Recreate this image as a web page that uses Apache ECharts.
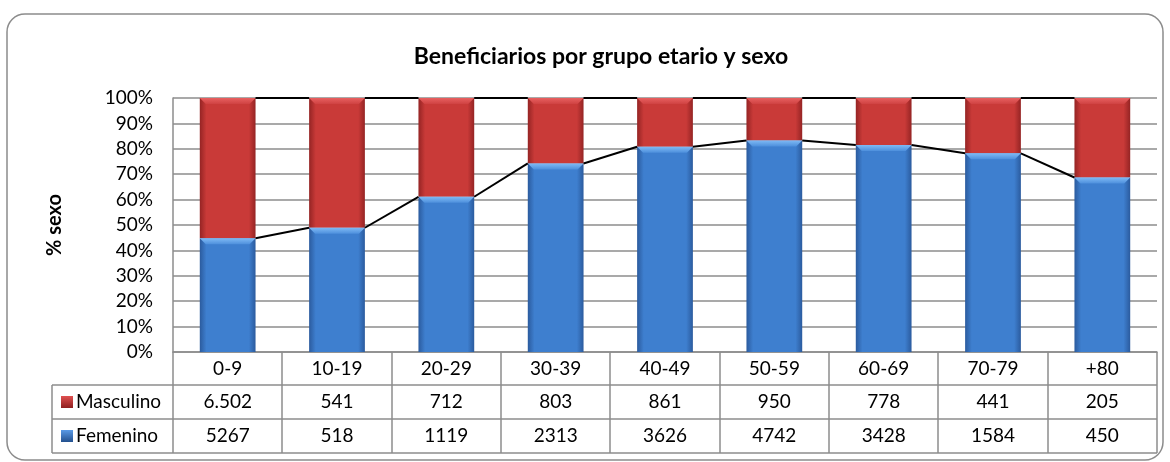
<!DOCTYPE html>
<html>
<head>
	<meta charset="utf-8">
	<title>Beneficiarios por grupo etario y sexo</title>
	<script src="https://cdn.jsdelivr.net/npm/echarts@6/dist/echarts.min.js"></script>
	<style>
		body { margin: 0; background: #fff; }
	</style>
</head>
<body>
	<div id="main" style="width: 1170px;height: 462px;"></div>
	<script>
		// datos
		var grupos = ['0-9', '10-19', '20-29', '30-39', '40-49', '50-59', '60-69', '70-79', '+80'];
		var masculino = [6502, 541, 712, 803, 861, 950, 778, 441, 205];
		var femenino = [5267, 518, 1119, 2313, 3626, 4742, 3428, 1584, 450];
		var masculinoTxt = ['6.502', '541', '712', '803', '861', '950', '778', '441', '205'];
		var femeninoTxt = ['5267', '518', '1119', '2313', '3626', '4742', '3428', '1584', '450'];
		var yTicks = [0, 10, 20, 30, 40, 50, 60, 70, 80, 90, 100];

		var FONT = 'Lato';
		var FS = 19;
		// área del gráfico
		var L = 173, R = 1157, T = 98, B = 352;
		var cellW = (R - L) / grupos.length;
		var rowY = [352, 385, 419, 453];
		var barRatio = 0.51;

		// porcentajes (100% apilado)
		var pctF = [], pctM = [];
		for (var i = 0; i < grupos.length; i++) {
			var tot = masculino[i] + femenino[i];
			pctF.push(femenino[i] / tot * 100);
			pctM.push(masculino[i] / tot * 100);
		}

		// líneas de series: de borde derecho de una barra al borde izquierdo de la siguiente
		var lineasF = [], lineasTop = [];
		for (var j = 0; j < grupos.length - 1; j++) {
			lineasF.push([j, pctF[j], pctF[j + 1]]);
			lineasTop.push([j, 100, 100]);
		}
		// bisel superior de cada segmento
		var biseles = [];
		for (var b = 0; b < grupos.length; b++) {
			biseles.push([b, pctF[b], 0]);
			biseles.push([b, 100, 1]);
		}

		function grad(c1, c2) {
			return new echarts.graphic.LinearGradient(0, 0, 1, 0, [
				{ offset: 0, color: c1 },
				{ offset: 0.12, color: c2 },
				{ offset: 0.88, color: c2 },
				{ offset: 1, color: c1 }
			]);
		}
		var azul = grad('#2b5b9e', '#3e7fcf');
		var rojo = grad('#952424', '#c93a38');

		function renderSerieLinea(params, api) {
			var i = api.value(0);
			var band = api.size([1, 0])[0];
			var half = band * barRatio / 2;
			var p1 = api.coord([i, api.value(1)]);
			var p2 = api.coord([i + 1, api.value(2)]);
			return {
				type: 'line',
				shape: { x1: p1[0] + half, y1: p1[1], x2: p2[0] - half, y2: p2[1] },
				style: { stroke: '#000', lineWidth: 2 }
			};
		}

		function renderBisel(params, api) {
			var p = api.coord([api.value(0), api.value(1)]);
			var half = api.size([1, 0])[0] * barRatio / 2;
			var h = 6;
			var col = api.value(2) === 0 ? ['#7fbaf5', '#4d8fdc'] : ['#e86060', '#cf4242'];
			return {
				type: 'polygon',
				shape: { points: [[p[0] - half, p[1]], [p[0] + half, p[1]], [p[0] + half - h, p[1] + h], [p[0] - half + h, p[1] + h]] },
				style: { fill: new echarts.graphic.LinearGradient(0, 0, 0, 1, [{ offset: 0, color: col[0] }, { offset: 1, color: col[1] }]) }
			};
		}

		// tabla de datos
		var graficos = [];
		var gris = '#8c8c8c';
		function linea(x1, y1, x2, y2) {
			graficos.push({ type: 'line', shape: { x1: x1, y1: y1, x2: x2, y2: y2 }, style: { stroke: gris, lineWidth: 1.5 }, z: 10 });
		}
		// marco redondeado
		graficos.push({
			type: 'rect', shape: { x: 7, y: 14, width: 1156, height: 446, r: 18 },
			style: { fill: 'none', stroke: gris, lineWidth: 1.5 }
		});
		linea(52, rowY[1], R, rowY[1]);
		linea(52, rowY[2], R, rowY[2]);
		linea(52, rowY[3], R, rowY[3]);
		linea(52, rowY[1], 52, rowY[3]);
		for (var k = 0; k <= grupos.length; k++) {
			var x = Math.round(L + k * cellW);
			linea(x, rowY[0], x, rowY[3]);
		}
		var filas = [
			{ name: 'Masculino', c1: '#8e1f1f', c2: '#e05050', y: (rowY[1] + rowY[2]) / 2 },
			{ name: 'Femenino', c1: '#23508e', c2: '#5a9ae6', y: (rowY[2] + rowY[3]) / 2 }
		];
		filas.forEach(function (f) {
			graficos.push({
				type: 'rect', shape: { x: 61, y: f.y - 6, width: 12, height: 12 },
				style: { fill: new echarts.graphic.LinearGradient(0, 0, 0, 1, [{ offset: 0, color: f.c2 }, { offset: 1, color: f.c1 }]) }
			});
			graficos.push({
				type: 'text', x: 76, y: f.y,
				style: { text: f.name, font: FS + 'px ' + FONT, fill: '#000', verticalAlign: 'middle' }
			});
		});

		var etiqueta = { fontFamily: FONT, fontSize: FS, color: '#000', margin: 7 };

		var myCharts = echarts.init(document.getElementById('main'));
		var option = {
			animation: false,
			backgroundColor: '#fff',
			title: {
				text: 'Beneficiarios por grupo etario y sexo',
				left: 596, textAlign: 'center', top: 40,
				textStyle: { fontFamily: FONT, fontSize: 23, fontWeight: 'bold', color: '#000' }
			},
			grid: { left: L, right: 1170 - R, top: T, bottom: 462 - B },
			xAxis: [{
				type: 'category', data: grupos,
				axisLine: { lineStyle: { color: gris, width: 1.5 } },
				axisTick: { show: false },
				axisLabel: etiqueta
			}, {
				type: 'category', data: masculinoTxt, position: 'bottom', offset: 33,
				axisLine: { show: false }, axisTick: { show: false },
				axisLabel: etiqueta
			}, {
				type: 'category', data: femeninoTxt, position: 'bottom', offset: 67,
				axisLine: { show: false }, axisTick: { show: false },
				axisLabel: etiqueta
			}],
			yAxis: {
				type: 'value', min: yTicks[0], max: yTicks[yTicks.length - 1], interval: 10,
				name: '% sexo', nameLocation: 'middle', nameGap: 108, nameRotate: 90,
				nameTextStyle: { fontFamily: FONT, fontSize: 20, fontWeight: 'bold', color: '#000' },
				axisLine: { show: true, lineStyle: { color: gris, width: 1.5 } },
				axisTick: { show: false },
				splitLine: { lineStyle: { color: gris, width: 1.5 } },
				axisLabel: { fontFamily: FONT, fontSize: FS, color: '#000', margin: 20, formatter: '{value}%' }
			},
			series: [{
				name: 'Femenino', type: 'bar', stack: 'total', data: pctF,
				barWidth: (barRatio * 100) + '%', itemStyle: { color: azul }
			}, {
				name: 'Masculino', type: 'bar', stack: 'total', data: pctM,
				itemStyle: { color: rojo }
			}, {
				type: 'custom', data: biseles, renderItem: renderBisel, z: 3
			}, {
				type: 'custom', data: lineasF, renderItem: renderSerieLinea, z: 5
			}, {
				type: 'custom', data: lineasTop, renderItem: renderSerieLinea, z: 5
			}],
			graphic: graficos
		};
		myCharts.setOption(option);
	</script>
</body>
</html>
